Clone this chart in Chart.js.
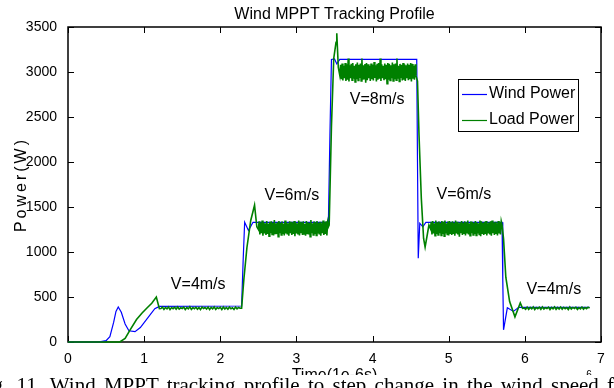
<!DOCTYPE html>
<html>
<head>
<meta charset="utf-8">
<script src="https://cdn.jsdelivr.net/npm/chart.js@4.4.1/dist/chart.umd.min.js"></script>
<style>
  html, body { margin: 0; padding: 0; background: #fff; overflow: hidden; }
  #wrap { position: relative; width: 614px; height: 388px; overflow: hidden; }
  #caption {
    position: absolute; left: -25px; top: 375px; width: 700px; height: 21px;
    background: #fff; color: #000; white-space: nowrap; word-spacing: 3px;
    font: 21px/21px "Liberation Serif", "Times New Roman", serif;
  }
</style>
</head>
<body>
<div id="wrap">
  <canvas id="chart" width="614" height="388"></canvas>
  <div id="caption">Fig. 11. Wind MPPT tracking profile to step change in the wind speed for different wind conditions</div>
</div>
<script>
const timeTicks = [0, 1, 2, 3, 4, 5, 6, 7];
const powerTicks = [0, 500, 1000, 1500, 2000, 2500, 3000, 3500];

// wind power (blue)
const windTime = [0, 0.4, 0.5, 0.55, 0.6, 0.63, 0.66, 0.7, 0.75, 0.8, 0.88, 0.95, 1.05, 1.14, 1.2,
  2.28, 2.3, 2.32, 2.37, 2.43, 2.5, 3.42, 3.44, 3.46, 3.5, 3.53, 3.57, 4.58, 4.59, 4.6, 4.62, 4.66, 4.7,
  5.7, 5.71, 5.72, 5.77, 5.85, 5.92, 6.85];
const windPower = [0, 0, 15, 60, 220, 340, 390, 330, 200, 125, 115, 160, 270, 370, 395,
  400, 900, 1330, 1240, 1330, 1330, 1330, 2300, 3140, 3145, 3090, 3140, 3140, 2000, 930, 1320, 1280, 1330,
  1330, 700, 135, 380, 340, 385, 385];

// load power (green): transitions as [time, power], noisy plateaus as sampled values
const loadStart = [[0, 0], [0.68, 0], [0.75, 40], [0.82, 140], [0.9, 250], [0.97, 320], [1.04, 380],
  [1.1, 430], [1.16, 500], [1.2, 370]];
const band4a = [372, 388, 362, 384, 368, 390, 360, 382, 370, 386,
  364, 389, 366, 380, 372, 388, 360, 384, 368, 391,
  362, 382, 370, 387, 365, 384, 360, 389, 372, 383,
  366, 388, 361, 385, 369, 390, 363, 382, 371, 386,
  360, 389, 367, 384, 364, 388, 370, 381, 362, 387,
  368, 384, 375];
const loadRise6 = [[2.28, 375], [2.31, 700], [2.35, 1050], [2.4, 1350], [2.45, 1520], [2.48, 1280]];
const band6a = [1250, 1340, 1195, 1325, 1210, 1350, 1180, 1330, 1205, 1320,
  1190, 1345, 1200, 1315, 1175, 1335, 1210, 1340, 1195, 1325,
  1185, 1355, 1205, 1320, 1200, 1330, 1170, 1345, 1210, 1325,
  1190, 1340, 1200, 1315, 1185, 1350, 1205, 1330, 1195, 1320,
  1180, 1340, 1210, 1335, 1190, 1325, 1200, 1345, 1175, 1330,
  1205, 1320, 1195, 1350, 1185, 1335, 1210, 1325, 1190, 1340,
  1200, 1315, 1180, 1345, 1205, 1330, 1195, 1325, 1170, 1355,
  1210, 1320, 1190, 1340, 1200, 1330, 1185, 1345, 1205, 1325,
  1195, 1335, 1180, 1320, 1210, 1350, 1190, 1330, 1200, 1340,
  1185, 1325, 1280];
const loadRise8 = [[3.43, 1300], [3.46, 2400], [3.49, 3150], [3.52, 3330], [3.53, 3430], [3.55, 3050]];
const band8 = [2960, 3080, 2920, 3095, 2905, 3070, 2930, 3100, 2900, 3085,
  2915, 3150, 2895, 3075, 2930, 3090, 2910, 3100, 2925, 3070,
  2890, 3085, 2920, 3105, 2905, 3080, 2935, 3095, 2900, 3150,
  2915, 3075, 2925, 3090, 2880, 3100, 2910, 3085, 2930, 3070,
  2900, 3095, 2920, 3080, 2905, 3110, 2935, 3075, 2895, 3090,
  2915, 3100, 2925, 3150, 2900, 3085, 2930, 3070, 2910, 3095,
  2920, 3080, 2870, 3100, 2915, 3090, 2905, 3075, 2930, 3105,
  2900, 3085, 2920, 3095, 2910, 3150, 2925, 3070, 2895, 3090,
  2935, 3080, 2905, 3100, 2915, 3085, 2900, 3075, 2930, 3095,
  2910, 3080, 2920, 3100, 2895, 3090, 2925, 3070, 2915, 3085,
  2960];
const loadDrop6 = [[4.59, 2900], [4.61, 2300], [4.64, 1600], [4.67, 1150], [4.69, 1055], [4.72, 1200], [4.74, 1300]];
const band6b = [1260, 1335, 1195, 1345, 1205, 1320, 1180, 1350, 1200, 1330,
  1190, 1340, 1210, 1325, 1185, 1345, 1200, 1335, 1175, 1350,
  1205, 1320, 1195, 1340, 1185, 1345, 1210, 1330, 1190, 1340,
  1200, 1325, 1180, 1350, 1205, 1335, 1195, 1320, 1170, 1330,
  1210, 1345, 1190, 1325, 1200, 1340, 1185, 1330, 1205, 1350,
  1195, 1320, 1180, 1340, 1210, 1335, 1190, 1325, 1200, 1345,
  1185, 1330, 1205, 1320, 1195, 1350, 1175, 1340, 1210, 1325,
  1190, 1335, 1200, 1345, 1185, 1320, 1205, 1330, 1195, 1340,
  1180, 1350, 1210, 1325, 1190, 1335, 1200, 1320, 1185, 1345,
  1205, 1330, 1195, 1340, 1300];
const loadDrop4 = [[5.72, 1150], [5.75, 720], [5.8, 450], [5.87, 280], [5.94, 435], [5.97, 375]];
const band4b = [378, 364, 388, 362, 384, 368, 390, 361, 382, 370,
  386, 363, 389, 366, 381, 372, 387, 360, 384, 369,
  390, 362, 383, 367, 388, 364, 385, 370, 382, 361,
  389, 366, 384, 372, 386, 362, 381, 368, 388, 365,
  383, 370, 386, 376];

const speedLabels = [
  { text: "V=4m/s", x: 1.71, y: 633 },
  { text: "V=6m/s", x: 2.94, y: 1622 },
  { text: "V=8m/s", x: 4.06, y: 2694 },
  { text: "V=6m/s", x: 5.20, y: 1639 },
  { text: "V=4m/s", x: 6.38, y: 583 },
];

const FONT = "'Liberation Sans', Arial, Helvetica, sans-serif";

function pairs(list) {
  return list.map(([x, y]) => ({ x, y }));
}
function band(start, step, values) {
  return values.map((y, i) => ({ x: +(start + i * step).toFixed(3), y }));
}

const windPoints = windTime.map((t, i) => ({ x: t, y: windPower[i] }));
const loadPoints = [
  ...pairs(loadStart), ...band(1.22, 0.02, band4a),
  ...pairs(loadRise6), ...band(2.5, 0.01, band6a),
  ...pairs(loadRise8), ...band(3.57, 0.01, band8),
  ...pairs(loadDrop6), ...band(4.76, 0.01, band6b),
  ...pairs(loadDrop4), ...band(5.99, 0.02, band4b),
];

const frame = {
  id: "frame",
  beforeDatasetsDraw(chart) {
    const { ctx, chartArea: a, scales } = chart;
    ctx.save();
    ctx.strokeStyle = "#000";
    ctx.lineWidth = 1;
    ctx.beginPath();
    scales.x.ticks.forEach((t) => {
      const px = Math.round(scales.x.getPixelForValue(t.value)) + 0.5;
      ctx.moveTo(px, a.bottom); ctx.lineTo(px, a.bottom - 6);
      ctx.moveTo(px, a.top); ctx.lineTo(px, a.top + 6);
    });
    scales.y.ticks.forEach((t) => {
      const py = Math.round(scales.y.getPixelForValue(t.value)) + 0.5;
      ctx.moveTo(a.left, py); ctx.lineTo(a.left + 6, py);
      ctx.moveTo(a.right, py); ctx.lineTo(a.right - 6, py);
    });
    ctx.stroke();
    ctx.lineWidth = 1.5;
    ctx.strokeRect(a.left, a.top, a.right - a.left, a.bottom - a.top);
    ctx.restore();
  },
  afterDraw(chart) {
    const { ctx, chartArea: a, scales } = chart;
    ctx.save();
    ctx.fillStyle = "#000";
    ctx.font = "16px " + FONT;

    // wind speed labels
    ctx.textAlign = "center";
    ctx.textBaseline = "middle";
    speedLabels.forEach((l) => {
      ctx.fillText(l.text, scales.x.getPixelForValue(l.x), scales.y.getPixelForValue(l.y));
    });

    // title
    ctx.textBaseline = "alphabetic";
    ctx.fillText("Wind MPPT Tracking Profile", (a.left + a.right) / 2, 19);

    // x axis title and exponent
    ctx.fillText("Time(1e-6s)", (a.left + a.right) / 2, 380);
    ctx.font = "10px " + FONT;
    ctx.fillText("6", 589, 378);

    // y axis title
    ctx.save();
    ctx.translate(22, (a.top + a.bottom) / 2);
    ctx.rotate(-Math.PI / 2);
    ctx.font = "16px " + FONT;
    ctx.letterSpacing = "3px";
    ctx.textBaseline = "middle";
    ctx.fillText("Power(W)", 0, 0);
    ctx.restore();

    // legend box
    const lx = 458, ly = 79, lw = 120, lh = 52;
    ctx.fillStyle = "#fff";
    ctx.fillRect(lx, ly, lw, lh);
    ctx.strokeStyle = "#000";
    ctx.lineWidth = 1;
    ctx.strokeRect(lx + 0.5, ly + 0.5, lw, lh);
    ctx.font = "16px " + FONT;
    ctx.textAlign = "left";
    ctx.textBaseline = "middle";
    chart.data.datasets.forEach((ds, i) => {
      const yy = ly + 15 + i * 26;
      ctx.strokeStyle = ds.borderColor;
      ctx.lineWidth = 1.2;
      ctx.beginPath();
      ctx.moveTo(lx + 4, yy + 0.5);
      ctx.lineTo(lx + 29, yy + 0.5);
      ctx.stroke();
      ctx.fillStyle = "#000";
      ctx.fillText(ds.label, lx + 31, yy);
    });
    ctx.restore();
  },
};

new Chart(document.getElementById("chart"), {
  type: "line",
  data: {
    datasets: [
      { label: "Wind Power", data: windPoints, borderColor: "#0000ff", borderWidth: 1.2, order: 2, clip: 6 },
      { label: "Load Power", data: loadPoints, borderColor: "#008000", borderWidth: 1.6, order: 1, clip: 6 },
    ],
  },
  options: {
    responsive: false,
    animation: false,
    elements: { point: { radius: 0 }, line: { tension: 0 } },
    layout: { padding: { top: 27, right: 13, left: 0, bottom: 0 } },
    plugins: { legend: { display: false }, tooltip: { enabled: false } },
    scales: {
      x: {
        type: "linear",
        min: 0,
        max: 7,
        grid: { display: false },
        border: { display: false },
        afterBuildTicks: (s) => { s.ticks = timeTicks.map((v) => ({ value: v })); },
        afterFit: (s) => { s.height = 46; },
        ticks: { color: "#000", font: { family: FONT, size: 14 }, padding: 1, maxRotation: 0,
          callback: (v) => String(v) },
      },
      y: {
        min: 0,
        max: 3500,
        grid: { display: false },
        border: { display: false },
        afterBuildTicks: (s) => { s.ticks = powerTicks.map((v) => ({ value: v })); },
        afterFit: (s) => { s.width = 68; },
        ticks: { color: "#000", font: { family: FONT, size: 14 }, padding: 3,
          callback: (v) => String(v) },
      },
    },
  },
  plugins: [frame],
});
</script>
</body>
</html>
